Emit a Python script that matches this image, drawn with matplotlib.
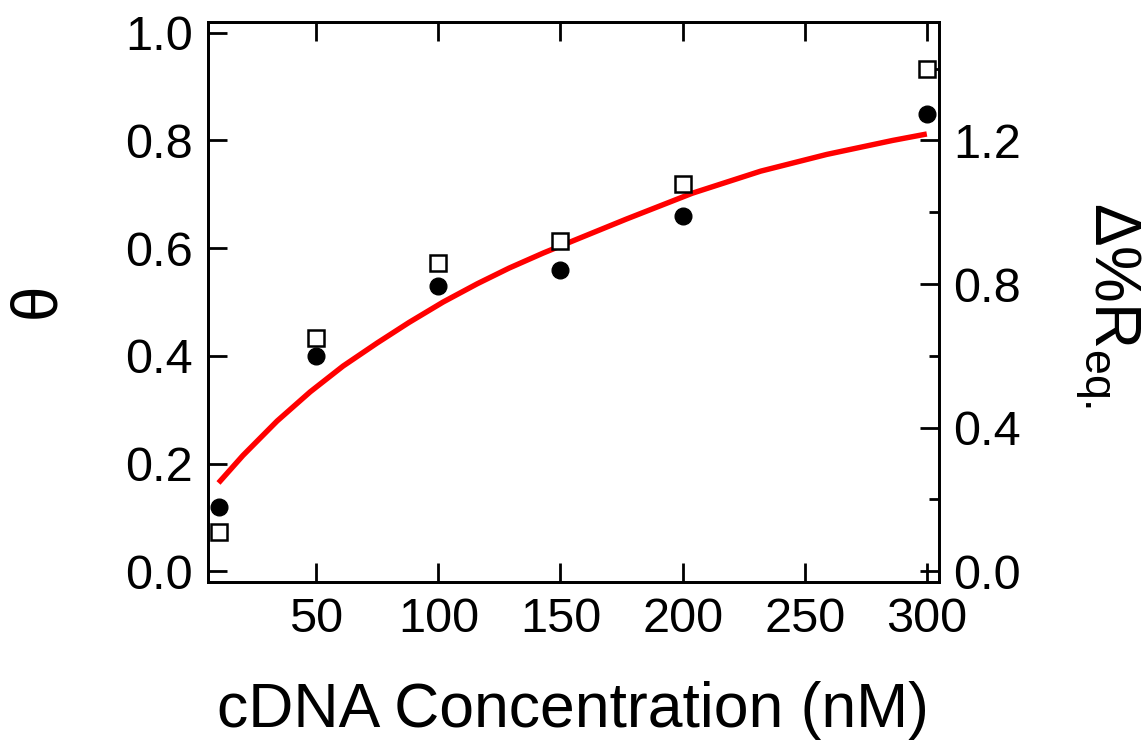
import matplotlib
matplotlib.use("Agg")
import matplotlib.pyplot as plt
from matplotlib.ticker import MultipleLocator, FormatStrFormatter

plt.rcParams['font.family'] = ['Liberation Sans', 'DejaVu Sans']
plt.rcParams['mathtext.fontset'] = 'custom'
plt.rcParams['mathtext.rm'] = 'Liberation Sans'
plt.rcParams['mathtext.it'] = 'Liberation Sans:italic'

# data
conc = [10, 50, 100, 150, 200, 300]
theta = [0.12, 0.40, 0.53, 0.56, 0.66, 0.85]          # filled circles, left axis
delta_r = [0.11, 0.65, 0.86, 0.92, 1.08, 1.40]         # open squares, right axis

# red fit curve, traced point by point
fit_conc = [10, 20, 34, 47.5, 61, 75, 88, 102, 116, 129, 143, 157,
            177, 204, 232, 259, 286, 300]
fit_theta = [0.164, 0.215, 0.279, 0.333, 0.381, 0.424, 0.462, 0.500, 0.534,
             0.563, 0.591, 0.617, 0.654, 0.702, 0.743, 0.774, 0.800, 0.812]

fig = plt.figure(figsize=(11.46, 7.42), dpi=100)
ax = fig.add_axes([0.1815, 0.2156, 0.6379, 0.7548])
ax2 = ax.twinx()

ax.plot(fit_conc, fit_theta, color='red', linewidth=3.9,
        solid_joinstyle='round', solid_capstyle='butt', zorder=2)
ax.plot(conc, theta, 'o', color='black', markersize=12, zorder=3)
ax2.plot(conc, delta_r, 's', markerfacecolor='white', markeredgecolor='black',
         markersize=11, markeredgewidth=1.8, zorder=3)

ax.set_xlim(5.7, 305)
ax.set_ylim(-0.02, 1.02)
ax2.set_ylim(-0.03, 1.53)

ax.set_xticks([50, 100, 150, 200, 250, 300])
ax.set_yticks([0.0, 0.2, 0.4, 0.6, 0.8, 1.0])
ax.yaxis.set_major_formatter(FormatStrFormatter('%.1f'))
ax2.yaxis.set_major_locator(MultipleLocator(0.4))
ax2.yaxis.set_minor_locator(MultipleLocator(0.2))
ax2.yaxis.set_major_formatter(FormatStrFormatter('%.1f'))

ax.tick_params(axis='x', which='major', direction='in', length=14, width=2,
               top=True, labelsize=35, pad=11)
ax.tick_params(axis='y', which='major', direction='in', length=14, width=2,
               labelsize=35, pad=11)
ax2.tick_params(axis='y', which='major', direction='in', length=14, width=2,
                labelsize=35, pad=10)
ax2.tick_params(axis='y', which='minor', direction='in', length=7, width=2)

for a in (ax, ax2):
    for s in a.spines.values():
        s.set_linewidth(2)

fig.text(573 / 1146, 1 - 727 / 742, 'cDNA Concentration (nM)', fontsize=45,
         ha='center', va='baseline')
fig.text(37 / 1146, 1 - 300 / 742, 'θ', fontsize=46, rotation=90,
         ha='center', va='center')
fig.text(1108 / 1146, 1 - 305 / 742, 'Δ%R$_{\\mathrm{eq.}}$', fontsize=46,
         rotation=-90, ha='center', va='center')

fig.savefig('out.png', dpi=100)
